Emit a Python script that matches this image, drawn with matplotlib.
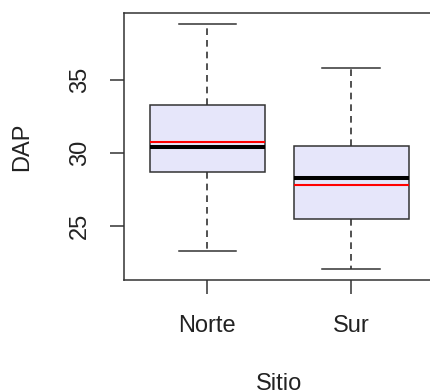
import matplotlib
matplotlib.use("Agg")
import matplotlib.pyplot as plt

plt.rcParams['font.family'] = ['Liberation Sans', 'DejaVu Sans']

# DAP por sitio: resumen de cinco numeros mas la media
sitios = ['Norte', 'Sur']
whislo = [23.31, 22.05]
q1 = [28.74, 25.50]
med = [30.41, 28.33]
q3 = [33.31, 30.50]
whishi = [38.86, 35.82]
media = [30.79, 27.83]

stats = []
for i in range(len(sitios)):
    stats.append({'label': sitios[i], 'whislo': whislo[i], 'q1': q1[i], 'med': med[i],
                  'q3': q3[i], 'whishi': whishi[i], 'mean': media[i], 'fliers': []})

fig = plt.figure(figsize=(4.31, 3.91), dpi=100)
W, H = 431.0, 391.0
ax = fig.add_axes([124 / W, 1 - 280 / H, 310.4 / W, 267 / H])

txt = '#222222'
edge = '#333333'
ax.bxp(stats, positions=[1, 2], widths=0.8, patch_artist=True, showmeans=True, meanline=True,
       boxprops=dict(facecolor='#E6E6FA', edgecolor=edge, linewidth=1.1),
       whiskerprops=dict(color=edge, linewidth=1.2, linestyle=(0, (4, 3))),
       capprops=dict(color=edge, linewidth=1.1),
       medianprops=dict(color='black', linewidth=2.9, solid_capstyle='butt'),
       meanprops=dict(color='red', linewidth=1.5, linestyle='-'),
       capwidths=0.4)

ax.set_xlim(0.42, 2.58)
ax.set_ylim(21.32, 39.6)
ax.set_yticks([25, 30, 35])
ax.set_xticks([1, 2])
ax.set_xticklabels(sitios)

for s in ax.spines.values():
    s.set_color(edge)
    s.set_linewidth(1.1)

ax.tick_params(axis='both', length=10, width=1.1, color=edge, labelsize=17, labelcolor=txt)
ax.tick_params(axis='y', pad=14, labelrotation=90)
ax.tick_params(axis='x', pad=15)
for lab in ax.get_yticklabels():
    lab.set_va('center')

ax.set_ylabel('DAP', fontsize=17, color=txt)
ax.yaxis.set_label_coords(-0.293, 0.5)
ax.set_xlabel('Sitio', fontsize=17, color=txt)
ax.xaxis.set_label_coords(0.5, -0.35)

fig.savefig('out.png', dpi=100)
